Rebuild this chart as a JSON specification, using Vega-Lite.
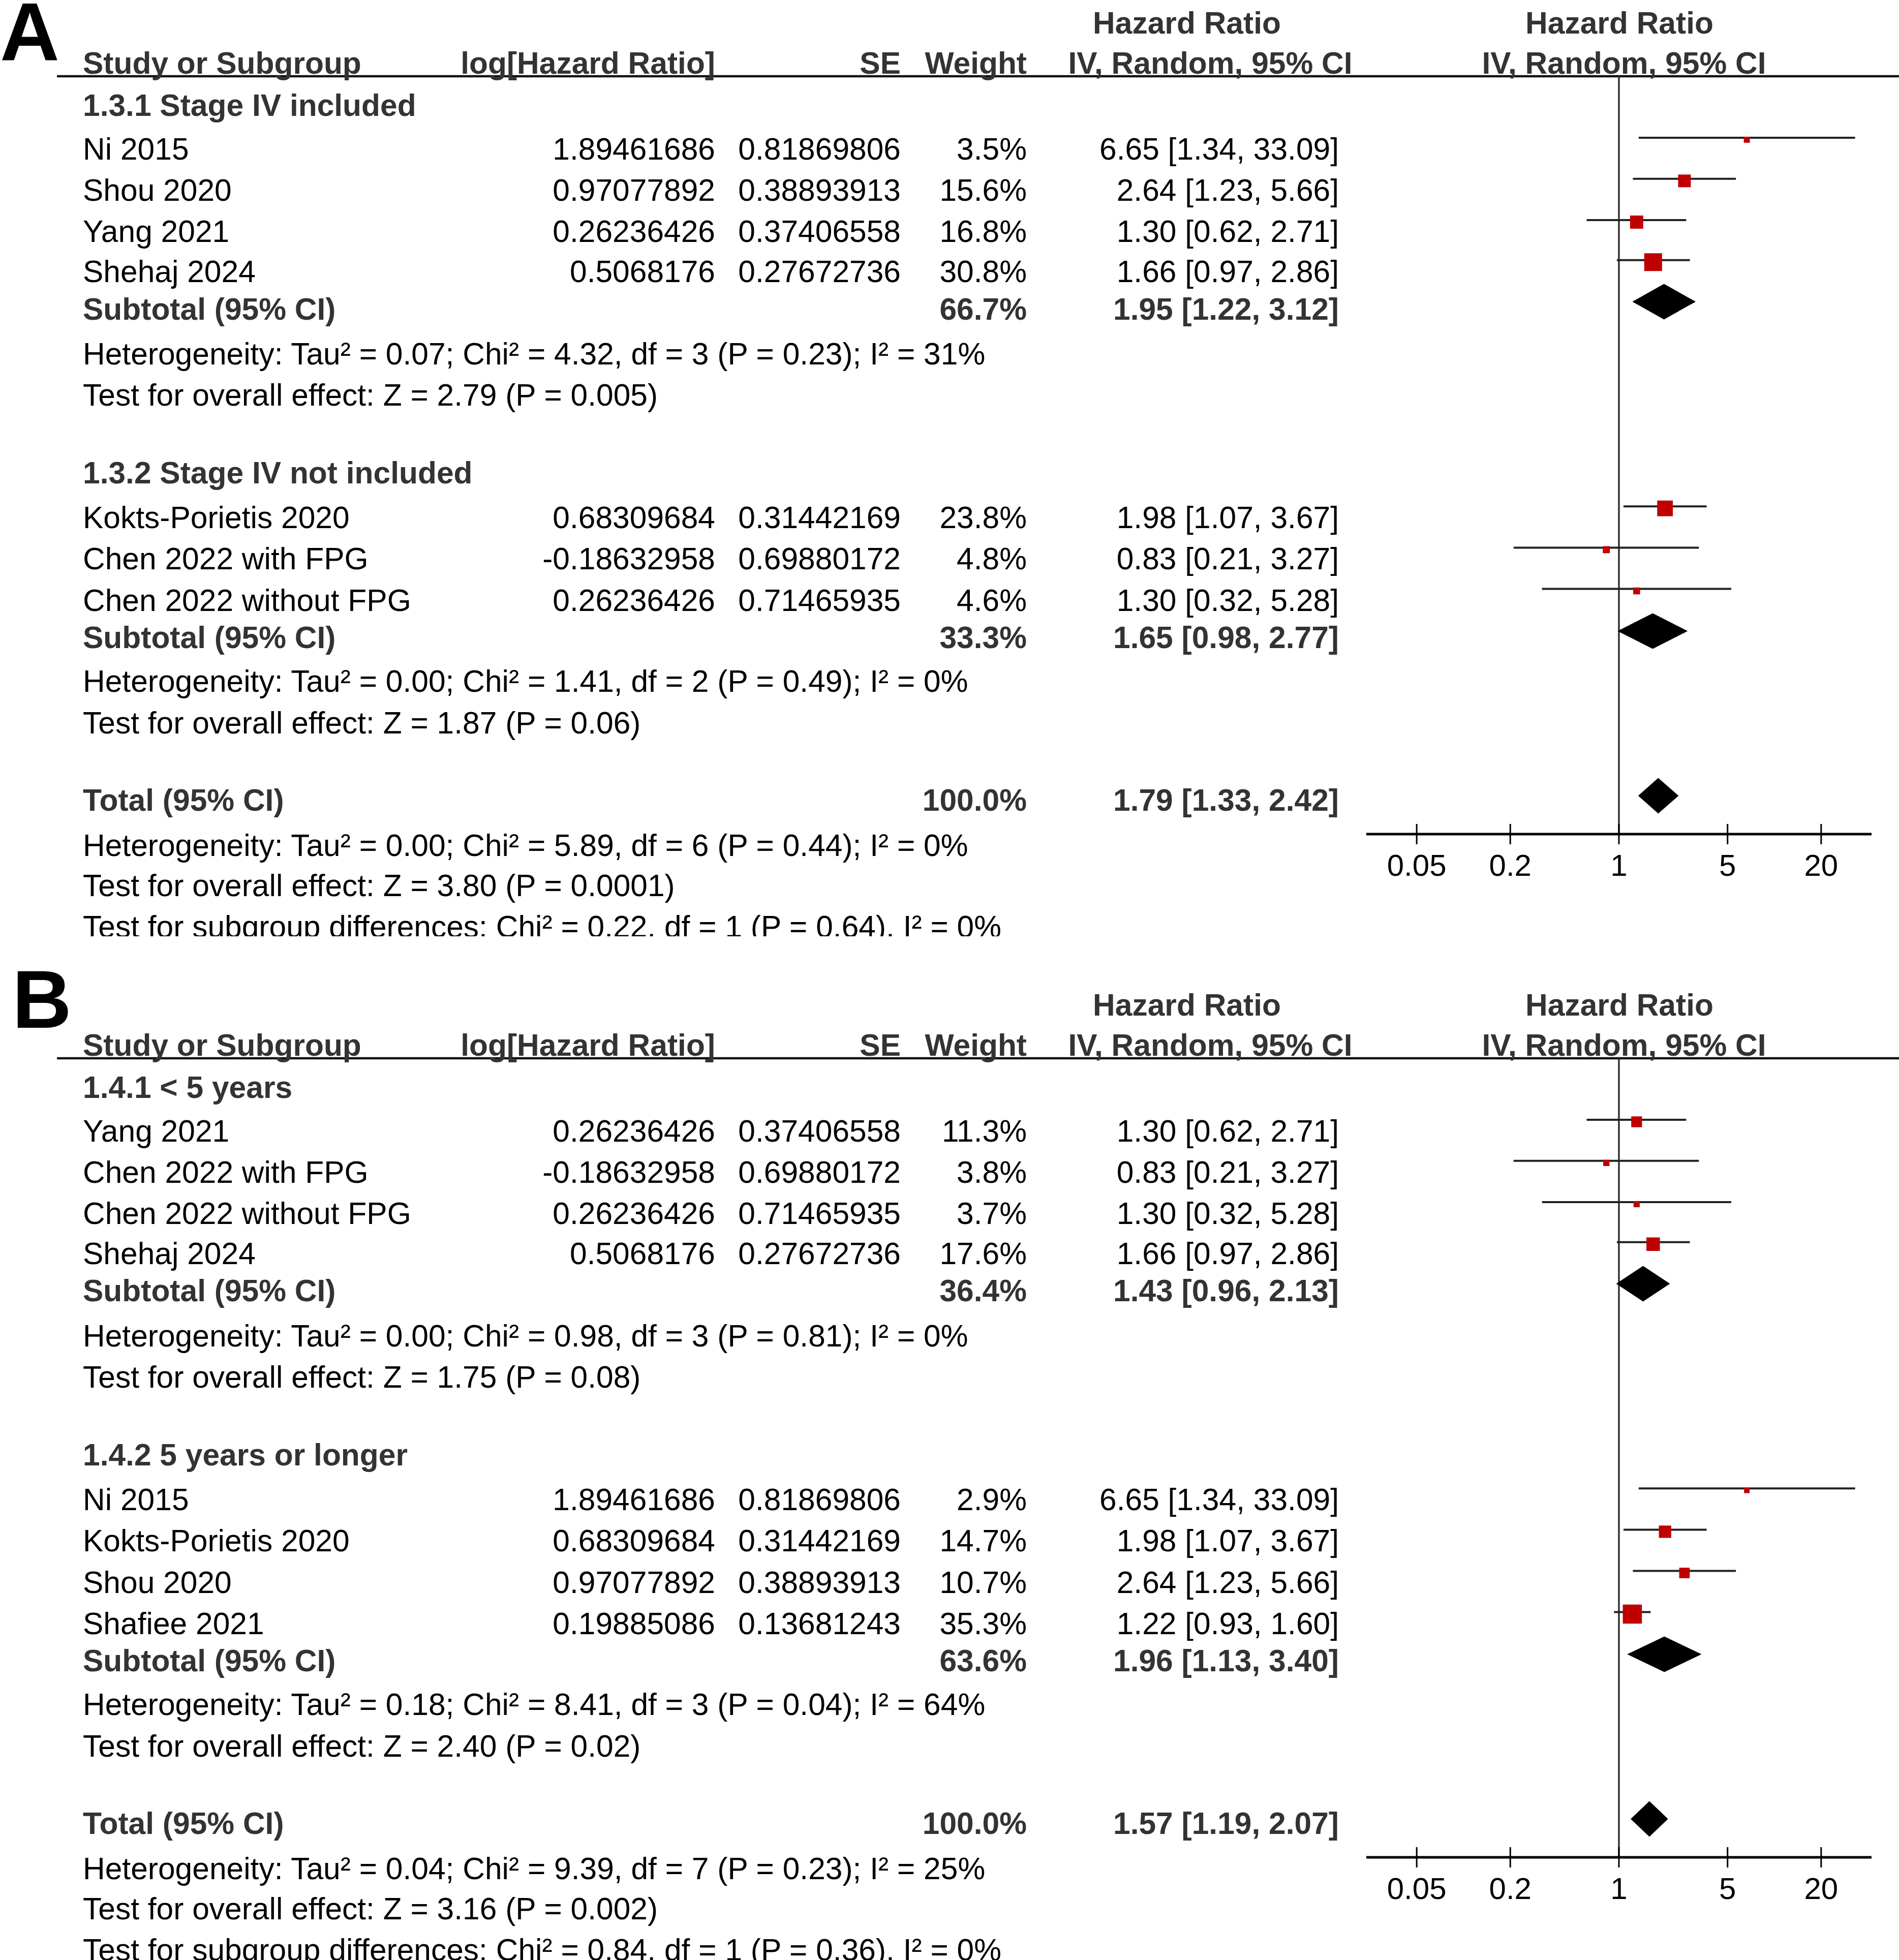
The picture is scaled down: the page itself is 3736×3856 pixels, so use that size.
{
  "$schema": "https://vega.github.io/schema/vega-lite/v6.json",
  "padding": 0,
  "background": "white",
  "bounds": "flush",
  "spacing": 90,
  "config": {"view": {"stroke": null}, "font": "Liberation Sans"},
  "datasets": {
    "cellsA": [
      {"line": 1.457, "col": -2, "kind": "label", "text": "A"},
      {"line": 0.556, "col": 5, "kind": "head", "text": "Hazard Ratio"},
      {"line": 0.556, "col": 7, "kind": "head", "text": "Hazard Ratio"},
      {"line": 1.53, "col": 0, "kind": "head", "text": "Study or Subgroup"},
      {"line": 1.53, "col": 1, "kind": "head", "text": "log[Hazard Ratio]"},
      {"line": 1.53, "col": 2, "kind": "head", "text": "SE"},
      {"line": 1.53, "col": 3, "kind": "head", "text": "Weight"},
      {"line": 1.53, "col": 6, "kind": "head", "text": "IV, Random, 95% CI"},
      {"line": 1.53, "col": 8, "kind": "head", "text": "IV, Random, 95% CI"},
      {"line": 2.556, "col": 0, "kind": "group", "text": "1.3.1 Stage IV included"},
      {"line": 3.617, "col": 0, "kind": "study", "text": "Ni 2015"},
      {"line": 3.617, "col": 1, "kind": "study", "text": "1.89461686"},
      {"line": 3.617, "col": 2, "kind": "study", "text": "0.81869806"},
      {"line": 3.617, "col": 3, "kind": "study", "text": "3.5%"},
      {"line": 3.617, "col": 4, "kind": "study", "text": "6.65 [1.34, 33.09]"},
      {"line": 4.615, "col": 0, "kind": "study", "text": "Shou 2020"},
      {"line": 4.615, "col": 1, "kind": "study", "text": "0.97077892"},
      {"line": 4.615, "col": 2, "kind": "study", "text": "0.38893913"},
      {"line": 4.615, "col": 3, "kind": "study", "text": "15.6%"},
      {"line": 4.615, "col": 4, "kind": "study", "text": "2.64 [1.23, 5.66]"},
      {"line": 5.617, "col": 0, "kind": "study", "text": "Yang 2021"},
      {"line": 5.617, "col": 1, "kind": "study", "text": "0.26236426"},
      {"line": 5.617, "col": 2, "kind": "study", "text": "0.37406558"},
      {"line": 5.617, "col": 3, "kind": "study", "text": "16.8%"},
      {"line": 5.617, "col": 4, "kind": "study", "text": "1.30 [0.62, 2.71]"},
      {"line": 6.589, "col": 0, "kind": "study", "text": "Shehaj 2024"},
      {"line": 6.589, "col": 1, "kind": "study", "text": "0.5068176"},
      {"line": 6.589, "col": 2, "kind": "study", "text": "0.27672736"},
      {"line": 6.589, "col": 3, "kind": "study", "text": "30.8%"},
      {"line": 6.589, "col": 4, "kind": "study", "text": "1.66 [0.97, 2.86]"},
      {"line": 7.5, "col": 0, "kind": "sub", "text": "Subtotal (95% CI)"},
      {"line": 7.5, "col": 3, "kind": "sub", "text": "66.7%"},
      {"line": 7.5, "col": 4, "kind": "sub", "text": "1.95 [1.22, 3.12]"},
      {"line": 8.593, "col": 0, "kind": "stat", "text": "Heterogeneity: Tau² = 0.07; Chi² = 4.32, df = 3 (P = 0.23); I² = 31%"},
      {"line": 9.595, "col": 0, "kind": "stat", "text": "Test for overall effect: Z = 2.79 (P = 0.005)"},
      {"line": 11.478, "col": 0, "kind": "group", "text": "1.3.2 Stage IV not included"},
      {"line": 12.57, "col": 0, "kind": "study", "text": "Kokts-Porietis 2020"},
      {"line": 12.57, "col": 1, "kind": "study", "text": "0.68309684"},
      {"line": 12.57, "col": 2, "kind": "study", "text": "0.31442169"},
      {"line": 12.57, "col": 3, "kind": "study", "text": "23.8%"},
      {"line": 12.57, "col": 4, "kind": "study", "text": "1.98 [1.07, 3.67]"},
      {"line": 13.573, "col": 0, "kind": "study", "text": "Chen 2022 with FPG"},
      {"line": 13.573, "col": 1, "kind": "study", "text": "-0.18632958"},
      {"line": 13.573, "col": 2, "kind": "study", "text": "0.69880172"},
      {"line": 13.573, "col": 3, "kind": "study", "text": "4.8%"},
      {"line": 13.573, "col": 4, "kind": "study", "text": "0.83 [0.21, 3.27]"},
      {"line": 14.575, "col": 0, "kind": "study", "text": "Chen 2022 without FPG"},
      {"line": 14.575, "col": 1, "kind": "study", "text": "0.26236426"},
      {"line": 14.575, "col": 2, "kind": "study", "text": "0.71465935"},
      {"line": 14.575, "col": 3, "kind": "study", "text": "4.6%"},
      {"line": 14.575, "col": 4, "kind": "study", "text": "1.30 [0.32, 5.28]"},
      {"line": 15.485, "col": 0, "kind": "sub", "text": "Subtotal (95% CI)"},
      {"line": 15.485, "col": 3, "kind": "sub", "text": "33.3%"},
      {"line": 15.485, "col": 4, "kind": "sub", "text": "1.65 [0.98, 2.77]"},
      {"line": 16.548, "col": 0, "kind": "stat", "text": "Heterogeneity: Tau² = 0.00; Chi² = 1.41, df = 2 (P = 0.49); I² = 0%"},
      {"line": 17.551, "col": 0, "kind": "stat", "text": "Test for overall effect: Z = 1.87 (P = 0.06)"},
      {"line": 19.433, "col": 0, "kind": "total", "text": "Total (95% CI)"},
      {"line": 19.433, "col": 3, "kind": "total", "text": "100.0%"},
      {"line": 19.433, "col": 4, "kind": "total", "text": "1.79 [1.33, 2.42]"},
      {"line": 20.526, "col": 0, "kind": "stat", "text": "Heterogeneity: Tau² = 0.00; Chi² = 5.89, df = 6 (P = 0.44); I² = 0%"},
      {"line": 21.512, "col": 0, "kind": "stat", "text": "Test for overall effect: Z = 3.80 (P = 0.0001)"},
      {"line": 22.506, "col": 0, "kind": "stat", "text": "Test for subgroup differences: Chi² = 0.22, df = 1 (P = 0.64), I² = 0%"}
    ],
    "cellsB": [
      {"line": 1.111, "col": -2, "kind": "label", "text": "B"},
      {"line": 0.556, "col": 5, "kind": "head", "text": "Hazard Ratio"},
      {"line": 0.556, "col": 7, "kind": "head", "text": "Hazard Ratio"},
      {"line": 1.53, "col": 0, "kind": "head", "text": "Study or Subgroup"},
      {"line": 1.53, "col": 1, "kind": "head", "text": "log[Hazard Ratio]"},
      {"line": 1.53, "col": 2, "kind": "head", "text": "SE"},
      {"line": 1.53, "col": 3, "kind": "head", "text": "Weight"},
      {"line": 1.53, "col": 6, "kind": "head", "text": "IV, Random, 95% CI"},
      {"line": 1.53, "col": 8, "kind": "head", "text": "IV, Random, 95% CI"},
      {"line": 2.556, "col": 0, "kind": "group", "text": "1.4.1 < 5 years"},
      {"line": 3.617, "col": 0, "kind": "study", "text": "Yang 2021"},
      {"line": 3.617, "col": 1, "kind": "study", "text": "0.26236426"},
      {"line": 3.617, "col": 2, "kind": "study", "text": "0.37406558"},
      {"line": 3.617, "col": 3, "kind": "study", "text": "11.3%"},
      {"line": 3.617, "col": 4, "kind": "study", "text": "1.30 [0.62, 2.71]"},
      {"line": 4.615, "col": 0, "kind": "study", "text": "Chen 2022 with FPG"},
      {"line": 4.615, "col": 1, "kind": "study", "text": "-0.18632958"},
      {"line": 4.615, "col": 2, "kind": "study", "text": "0.69880172"},
      {"line": 4.615, "col": 3, "kind": "study", "text": "3.8%"},
      {"line": 4.615, "col": 4, "kind": "study", "text": "0.83 [0.21, 3.27]"},
      {"line": 5.617, "col": 0, "kind": "study", "text": "Chen 2022 without FPG"},
      {"line": 5.617, "col": 1, "kind": "study", "text": "0.26236426"},
      {"line": 5.617, "col": 2, "kind": "study", "text": "0.71465935"},
      {"line": 5.617, "col": 3, "kind": "study", "text": "3.7%"},
      {"line": 5.617, "col": 4, "kind": "study", "text": "1.30 [0.32, 5.28]"},
      {"line": 6.589, "col": 0, "kind": "study", "text": "Shehaj 2024"},
      {"line": 6.589, "col": 1, "kind": "study", "text": "0.5068176"},
      {"line": 6.589, "col": 2, "kind": "study", "text": "0.27672736"},
      {"line": 6.589, "col": 3, "kind": "study", "text": "17.6%"},
      {"line": 6.589, "col": 4, "kind": "study", "text": "1.66 [0.97, 2.86]"},
      {"line": 7.5, "col": 0, "kind": "sub", "text": "Subtotal (95% CI)"},
      {"line": 7.5, "col": 3, "kind": "sub", "text": "36.4%"},
      {"line": 7.5, "col": 4, "kind": "sub", "text": "1.43 [0.96, 2.13]"},
      {"line": 8.593, "col": 0, "kind": "stat", "text": "Heterogeneity: Tau² = 0.00; Chi² = 0.98, df = 3 (P = 0.81); I² = 0%"},
      {"line": 9.595, "col": 0, "kind": "stat", "text": "Test for overall effect: Z = 1.75 (P = 0.08)"},
      {"line": 11.478, "col": 0, "kind": "group", "text": "1.4.2 5 years or longer"},
      {"line": 12.57, "col": 0, "kind": "study", "text": "Ni 2015"},
      {"line": 12.57, "col": 1, "kind": "study", "text": "1.89461686"},
      {"line": 12.57, "col": 2, "kind": "study", "text": "0.81869806"},
      {"line": 12.57, "col": 3, "kind": "study", "text": "2.9%"},
      {"line": 12.57, "col": 4, "kind": "study", "text": "6.65 [1.34, 33.09]"},
      {"line": 13.573, "col": 0, "kind": "study", "text": "Kokts-Porietis 2020"},
      {"line": 13.573, "col": 1, "kind": "study", "text": "0.68309684"},
      {"line": 13.573, "col": 2, "kind": "study", "text": "0.31442169"},
      {"line": 13.573, "col": 3, "kind": "study", "text": "14.7%"},
      {"line": 13.573, "col": 4, "kind": "study", "text": "1.98 [1.07, 3.67]"},
      {"line": 14.575, "col": 0, "kind": "study", "text": "Shou 2020"},
      {"line": 14.575, "col": 1, "kind": "study", "text": "0.97077892"},
      {"line": 14.575, "col": 2, "kind": "study", "text": "0.38893913"},
      {"line": 14.575, "col": 3, "kind": "study", "text": "10.7%"},
      {"line": 14.575, "col": 4, "kind": "study", "text": "2.64 [1.23, 5.66]"},
      {"line": 15.575, "col": 0, "kind": "study", "text": "Shafiee 2021"},
      {"line": 15.575, "col": 1, "kind": "study", "text": "0.19885086"},
      {"line": 15.575, "col": 2, "kind": "study", "text": "0.13681243"},
      {"line": 15.575, "col": 3, "kind": "study", "text": "35.3%"},
      {"line": 15.575, "col": 4, "kind": "study", "text": "1.22 [0.93, 1.60]"},
      {"line": 16.485, "col": 0, "kind": "sub", "text": "Subtotal (95% CI)"},
      {"line": 16.485, "col": 3, "kind": "sub", "text": "63.6%"},
      {"line": 16.485, "col": 4, "kind": "sub", "text": "1.96 [1.13, 3.40]"},
      {"line": 17.548, "col": 0, "kind": "stat", "text": "Heterogeneity: Tau² = 0.18; Chi² = 8.41, df = 3 (P = 0.04); I² = 64%"},
      {"line": 18.551, "col": 0, "kind": "stat", "text": "Test for overall effect: Z = 2.40 (P = 0.02)"},
      {"line": 20.433, "col": 0, "kind": "total", "text": "Total (95% CI)"},
      {"line": 20.433, "col": 3, "kind": "total", "text": "100.0%"},
      {"line": 20.433, "col": 4, "kind": "total", "text": "1.57 [1.19, 2.07]"},
      {"line": 21.526, "col": 0, "kind": "stat", "text": "Heterogeneity: Tau² = 0.04; Chi² = 9.39, df = 7 (P = 0.23); I² = 25%"},
      {"line": 22.512, "col": 0, "kind": "stat", "text": "Test for overall effect: Z = 3.16 (P = 0.002)"},
      {"line": 23.506, "col": 0, "kind": "stat", "text": "Test for subgroup differences: Chi² = 0.84, df = 1 (P = 0.36), I² = 0%"}
    ],
    "studiesA": [
      {"study": "Ni 2015", "line": 3.617, "hr": 6.65, "lo": 1.34, "hi": 33.09, "weight": 3.5},
      {"study": "Shou 2020", "line": 4.615, "hr": 2.64, "lo": 1.23, "hi": 5.66, "weight": 15.6},
      {"study": "Yang 2021", "line": 5.617, "hr": 1.30, "lo": 0.62, "hi": 2.71, "weight": 16.8},
      {"study": "Shehaj 2024", "line": 6.589, "hr": 1.66, "lo": 0.97, "hi": 2.86, "weight": 30.8},
      {"study": "Kokts-Porietis 2020", "line": 12.57, "hr": 1.98, "lo": 1.07, "hi": 3.67, "weight": 23.8},
      {"study": "Chen 2022 with FPG", "line": 13.573, "hr": 0.83, "lo": 0.21, "hi": 3.27, "weight": 4.8},
      {"study": "Chen 2022 without FPG", "line": 14.575, "hr": 1.30, "lo": 0.32, "hi": 5.28, "weight": 4.6}
    ],
    "studiesB": [
      {"study": "Yang 2021", "line": 3.617, "hr": 1.30, "lo": 0.62, "hi": 2.71, "weight": 11.3},
      {"study": "Chen 2022 with FPG", "line": 4.615, "hr": 0.83, "lo": 0.21, "hi": 3.27, "weight": 3.8},
      {"study": "Chen 2022 without FPG", "line": 5.617, "hr": 1.30, "lo": 0.32, "hi": 5.28, "weight": 3.7},
      {"study": "Shehaj 2024", "line": 6.589, "hr": 1.66, "lo": 0.97, "hi": 2.86, "weight": 17.6},
      {"study": "Ni 2015", "line": 12.57, "hr": 6.65, "lo": 1.34, "hi": 33.09, "weight": 2.9},
      {"study": "Kokts-Porietis 2020", "line": 13.573, "hr": 1.98, "lo": 1.07, "hi": 3.67, "weight": 14.7},
      {"study": "Shou 2020", "line": 14.575, "hr": 2.64, "lo": 1.23, "hi": 5.66, "weight": 10.7},
      {"study": "Shafiee 2021", "line": 15.575, "hr": 1.22, "lo": 0.93, "hi": 1.60, "weight": 35.3}
    ],
    "diamondsA": [
      {"id": "1.3.1", "slot": 7, "seq": 1, "vertex": "mid", "hr": 1.22},
      {"id": "1.3.1", "slot": 7, "seq": 2, "vertex": "top", "hr": 1.95},
      {"id": "1.3.1", "slot": 7, "seq": 3, "vertex": "mid", "hr": 3.12},
      {"id": "1.3.1", "slot": 7, "seq": 4, "vertex": "bottom", "hr": 1.95},
      {"id": "1.3.2", "slot": 15, "seq": 1, "vertex": "mid", "hr": 0.98},
      {"id": "1.3.2", "slot": 15, "seq": 2, "vertex": "top", "hr": 1.65},
      {"id": "1.3.2", "slot": 15, "seq": 3, "vertex": "mid", "hr": 2.77},
      {"id": "1.3.2", "slot": 15, "seq": 4, "vertex": "bottom", "hr": 1.65},
      {"id": "total", "slot": 19, "seq": 1, "vertex": "mid", "hr": 1.33},
      {"id": "total", "slot": 19, "seq": 2, "vertex": "top", "hr": 1.79},
      {"id": "total", "slot": 19, "seq": 3, "vertex": "mid", "hr": 2.42},
      {"id": "total", "slot": 19, "seq": 4, "vertex": "bottom", "hr": 1.79}
    ],
    "diamondsB": [
      {"id": "1.4.1", "slot": 7, "seq": 1, "vertex": "mid", "hr": 0.96},
      {"id": "1.4.1", "slot": 7, "seq": 2, "vertex": "top", "hr": 1.43},
      {"id": "1.4.1", "slot": 7, "seq": 3, "vertex": "mid", "hr": 2.13},
      {"id": "1.4.1", "slot": 7, "seq": 4, "vertex": "bottom", "hr": 1.43},
      {"id": "1.4.2", "slot": 16, "seq": 1, "vertex": "mid", "hr": 1.13},
      {"id": "1.4.2", "slot": 16, "seq": 2, "vertex": "top", "hr": 1.96},
      {"id": "1.4.2", "slot": 16, "seq": 3, "vertex": "mid", "hr": 3.40},
      {"id": "1.4.2", "slot": 16, "seq": 4, "vertex": "bottom", "hr": 1.96},
      {"id": "total", "slot": 20, "seq": 1, "vertex": "mid", "hr": 1.19},
      {"id": "total", "slot": 20, "seq": 2, "vertex": "top", "hr": 1.57},
      {"id": "total", "slot": 20, "seq": 3, "vertex": "mid", "hr": 2.07},
      {"id": "total", "slot": 20, "seq": 4, "vertex": "bottom", "hr": 1.57}
    ],
    "ticks": [{"tick": 0.05}, {"tick": 0.2}, {"tick": 1}, {"tick": 5}, {"tick": 20}]
  },
  "vconcat": [
    {
      "width": 3736,
      "height": 1842,
      "layer": [
        {
          "layer": [
            {
              "data": {"values": [{}]},
              "mark": {"type": "rule", "color": "#111111", "strokeWidth": 4.5},
              "encoding": {
                "x": {"datum": -1, "type": "quantitative", "scale": {"type": "linear", "domain": [-2, -1, 0, 1, 2, 3, 4, 5, 6, 7, 8, 9], "range": [0, 112, 163, 1407, 1772, 2020, 2634, 2335, 2381, 3186, 3195, 3736], "nice": false, "zero": false}, "axis": null},
                "x2": {"datum": 9},
                "y": {"datum": 1.852, "type": "quantitative", "scale": {"domain": [0, 22.7407], "reverse": true, "nice": false, "zero": false}, "axis": null}
              }
            },
            {
              "data": {"name": "cellsA"},
              "transform": [{"filter": "datum.kind == 'label'"}],
              "mark": {"type": "text", "font": "Liberation Sans", "fontWeight": "bold", "fontSize": 162, "align": "left", "baseline": "alphabetic", "color": "#000000", "clip": true},
              "encoding": {
                "x": {"field": "col", "type": "quantitative", "scale": {"type": "linear", "domain": [-2, -1, 0, 1, 2, 3, 4, 5, 6, 7, 8, 9], "range": [0, 112, 163, 1407, 1772, 2020, 2634, 2335, 2381, 3186, 3195, 3736], "nice": false, "zero": false}, "axis": null},
                "y": {"field": "line", "type": "quantitative", "scale": {"domain": [0, 22.7407], "reverse": true, "nice": false, "zero": false}, "axis": null},
                "text": {"field": "text"}
              }
            },
            {
              "data": {"name": "cellsA"},
              "transform": [{"filter": "datum.col == 0 && (datum.kind == 'study' || datum.kind == 'stat')"}],
              "mark": {"type": "text", "font": "Liberation Sans", "fontSize": 60.5, "align": "left", "baseline": "middle", "dy": 3, "color": "#000000", "clip": true},
              "encoding": {
                "x": {"field": "col", "type": "quantitative", "scale": {"type": "linear", "domain": [-2, -1, 0, 1, 2, 3, 4, 5, 6, 7, 8, 9], "range": [0, 112, 163, 1407, 1772, 2020, 2634, 2335, 2381, 3186, 3195, 3736], "nice": false, "zero": false}, "axis": null},
                "y": {"field": "line", "type": "quantitative", "scale": {"domain": [0, 22.7407], "reverse": true, "nice": false, "zero": false}, "axis": null},
                "text": {"field": "text"}
              }
            },
            {
              "data": {"name": "cellsA"},
              "transform": [{"filter": "datum.col == 0 && datum.kind != 'study' && datum.kind != 'stat' && datum.kind != 'label'"}],
              "mark": {"type": "text", "font": "Liberation Sans", "fontWeight": "bold", "fontSize": 60.5, "align": "left", "baseline": "middle", "dy": 3, "color": "#333333", "clip": true},
              "encoding": {
                "x": {"field": "col", "type": "quantitative", "scale": {"type": "linear", "domain": [-2, -1, 0, 1, 2, 3, 4, 5, 6, 7, 8, 9], "range": [0, 112, 163, 1407, 1772, 2020, 2634, 2335, 2381, 3186, 3195, 3736], "nice": false, "zero": false}, "axis": null},
                "y": {"field": "line", "type": "quantitative", "scale": {"domain": [0, 22.7407], "reverse": true, "nice": false, "zero": false}, "axis": null},
                "text": {"field": "text"}
              }
            },
            {
              "data": {"name": "cellsA"},
              "transform": [{"filter": "datum.col >= 1 && datum.col <= 4 && datum.kind == 'study'"}],
              "mark": {"type": "text", "font": "Liberation Sans", "fontSize": 60.5, "align": "right", "baseline": "middle", "dy": 3, "color": "#000000", "clip": true},
              "encoding": {
                "x": {"field": "col", "type": "quantitative", "scale": {"type": "linear", "domain": [-2, -1, 0, 1, 2, 3, 4, 5, 6, 7, 8, 9], "range": [0, 112, 163, 1407, 1772, 2020, 2634, 2335, 2381, 3186, 3195, 3736], "nice": false, "zero": false}, "axis": null},
                "y": {"field": "line", "type": "quantitative", "scale": {"domain": [0, 22.7407], "reverse": true, "nice": false, "zero": false}, "axis": null},
                "text": {"field": "text"}
              }
            },
            {
              "data": {"name": "cellsA"},
              "transform": [{"filter": "datum.col >= 1 && datum.col <= 4 && datum.kind != 'study'"}],
              "mark": {"type": "text", "font": "Liberation Sans", "fontWeight": "bold", "fontSize": 60.5, "align": "right", "baseline": "middle", "dy": 3, "color": "#333333", "clip": true},
              "encoding": {
                "x": {"field": "col", "type": "quantitative", "scale": {"type": "linear", "domain": [-2, -1, 0, 1, 2, 3, 4, 5, 6, 7, 8, 9], "range": [0, 112, 163, 1407, 1772, 2020, 2634, 2335, 2381, 3186, 3195, 3736], "nice": false, "zero": false}, "axis": null},
                "y": {"field": "line", "type": "quantitative", "scale": {"domain": [0, 22.7407], "reverse": true, "nice": false, "zero": false}, "axis": null},
                "text": {"field": "text"}
              }
            },
            {
              "data": {"name": "cellsA"},
              "transform": [{"filter": "datum.col >= 5"}],
              "mark": {"type": "text", "font": "Liberation Sans", "fontWeight": "bold", "fontSize": 60.5, "align": "center", "baseline": "middle", "dy": 3, "color": "#333333", "clip": true},
              "encoding": {
                "x": {"field": "col", "type": "quantitative", "scale": {"type": "linear", "domain": [-2, -1, 0, 1, 2, 3, 4, 5, 6, 7, 8, 9], "range": [0, 112, 163, 1407, 1772, 2020, 2634, 2335, 2381, 3186, 3195, 3736], "nice": false, "zero": false}, "axis": null},
                "y": {"field": "line", "type": "quantitative", "scale": {"domain": [0, 22.7407], "reverse": true, "nice": false, "zero": false}, "axis": null},
                "text": {"field": "text"}
              }
            }
          ]
        },
        {
          "layer": [
            {
              "data": {"values": [{}]},
              "mark": {"type": "rule", "color": "#333333", "strokeWidth": 3.5},
              "encoding": {
                "x": {"datum": 1, "type": "quantitative", "scale": {"type": "log", "domain": [0.0237, 42.2], "range": [2688, 3682], "nice": false}, "axis": null},
                "y": {"datum": 1.852, "type": "quantitative", "scale": {"domain": [0, 22.7407], "reverse": true, "nice": false, "zero": false}, "axis": null},
                "y2": {"datum": 20.259}
              }
            },
            {
              "data": {"values": [{}]},
              "mark": {"type": "rule", "color": "#000000", "strokeWidth": 5},
              "encoding": {
                "x": {"datum": 0.0237, "type": "quantitative", "scale": {"type": "log", "domain": [0.0237, 42.2], "range": [2688, 3682], "nice": false}, "axis": null},
                "x2": {"datum": 42.2},
                "y": {"datum": 20.259, "type": "quantitative", "scale": {"domain": [0, 22.7407], "reverse": true, "nice": false, "zero": false}, "axis": null}
              }
            },
            {
              "data": {"name": "ticks"},
              "mark": {"type": "rule", "color": "#000000", "strokeWidth": 3},
              "encoding": {
                "x": {"field": "tick", "type": "quantitative", "scale": {"type": "log", "domain": [0.0237, 42.2], "range": [2688, 3682], "nice": false}, "axis": null},
                "y": {"datum": 20.012, "type": "quantitative", "scale": {"domain": [0, 22.7407], "reverse": true, "nice": false, "zero": false}, "axis": null},
                "y2": {"datum": 20.506}
              }
            },
            {
              "data": {"name": "ticks"},
              "mark": {"type": "text", "font": "Liberation Sans", "fontSize": 60, "align": "center", "baseline": "middle", "dy": 3, "color": "#000000"},
              "encoding": {
                "x": {"field": "tick", "type": "quantitative", "scale": {"type": "log", "domain": [0.0237, 42.2], "range": [2688, 3682], "nice": false}, "axis": null},
                "y": {"datum": 21.012, "type": "quantitative", "scale": {"domain": [0, 22.7407], "reverse": true, "nice": false, "zero": false}, "axis": null},
                "text": {"field": "tick", "type": "quantitative", "format": "~g"}
              }
            },
            {
              "data": {"name": "studiesA"},
              "mark": {"type": "rule", "color": "#222222", "strokeWidth": 4, "yOffset": -22},
              "encoding": {
                "x": {"field": "lo", "type": "quantitative", "scale": {"type": "log", "domain": [0.0237, 42.2], "range": [2688, 3682], "nice": false}, "axis": null},
                "x2": {"field": "hi"},
                "y": {"field": "line", "type": "quantitative", "scale": {"domain": [0, 22.7407], "reverse": true, "nice": false, "zero": false}, "axis": null}
              }
            },
            {
              "data": {"name": "studiesA"},
              "mark": {"type": "point", "shape": "square", "filled": true, "color": "#c00000", "opacity": 1, "yOffset": -18},
              "encoding": {
                "x": {"field": "hr", "type": "quantitative", "scale": {"type": "log", "domain": [0.0237, 42.2], "range": [2688, 3682], "nice": false}, "axis": null},
                "y": {"field": "line", "type": "quantitative", "scale": {"domain": [0, 22.7407], "reverse": true, "nice": false, "zero": false}, "axis": null},
                "size": {"field": "weight", "type": "quantitative", "scale": {"type": "linear", "domain": [0, 40], "range": [0, 1600]}, "legend": null}
              }
            }
          ]
        },
        {
          "data": {"name": "diamondsA"},
          "mark": {"type": "line", "filled": true, "color": "#000000", "strokeWidth": 0},
          "encoding": {
            "x": {"field": "hr", "type": "quantitative", "scale": {"type": "log", "domain": [0.0237, 42.2], "range": [2688, 3682], "nice": false}, "axis": null},
            "y": {"field": "slot", "type": "ordinal", "scale": {"type": "point", "domain": [0, 1, 2, 3, 4, 5, 6, 7, 8, 9, 10, 11, 12, 13, 14, 15, 16, 17, 18, 19, 20, 21, 22, 23], "range": [40.5, 1903.5], "padding": 0}, "axis": null},
            "yOffset": {"field": "vertex", "type": "nominal", "scale": {"type": "point", "domain": ["top", "mid", "bottom"], "range": [-49, 21], "padding": 0}},
            "order": {"field": "seq", "type": "quantitative"},
            "detail": {"field": "id"}
          }
        }
      ],
      "resolve": {"scale": {"x": "independent", "y": "independent"}, "axis": {"x": "independent", "y": "independent"}}
    },
    {
      "width": 3736,
      "height": 1924,
      "layer": [
        {
          "layer": [
            {
              "data": {"values": [{}]},
              "mark": {"type": "rule", "color": "#111111", "strokeWidth": 4.5},
              "encoding": {
                "x": {"datum": -1, "type": "quantitative", "scale": {"type": "linear", "domain": [-2, -1, 0, 1, 2, 3, 4, 5, 6, 7, 8, 9], "range": [24, 112, 163, 1407, 1772, 2020, 2634, 2335, 2381, 3186, 3195, 3736], "nice": false, "zero": false}, "axis": null},
                "x2": {"datum": 9},
                "y": {"datum": 1.852, "type": "quantitative", "scale": {"domain": [0, 23.7531], "reverse": true, "nice": false, "zero": false}, "axis": null}
              }
            },
            {
              "data": {"name": "cellsB"},
              "transform": [{"filter": "datum.kind == 'label'"}],
              "mark": {"type": "text", "font": "Liberation Sans", "fontWeight": "bold", "fontSize": 162, "align": "left", "baseline": "alphabetic", "color": "#000000"},
              "encoding": {
                "x": {"field": "col", "type": "quantitative", "scale": {"type": "linear", "domain": [-2, -1, 0, 1, 2, 3, 4, 5, 6, 7, 8, 9], "range": [24, 112, 163, 1407, 1772, 2020, 2634, 2335, 2381, 3186, 3195, 3736], "nice": false, "zero": false}, "axis": null},
                "y": {"field": "line", "type": "quantitative", "scale": {"domain": [0, 23.7531], "reverse": true, "nice": false, "zero": false}, "axis": null},
                "text": {"field": "text"}
              }
            },
            {
              "data": {"name": "cellsB"},
              "transform": [{"filter": "datum.col == 0 && (datum.kind == 'study' || datum.kind == 'stat')"}],
              "mark": {"type": "text", "font": "Liberation Sans", "fontSize": 60.5, "align": "left", "baseline": "middle", "dy": 3, "color": "#000000", "clip": true},
              "encoding": {
                "x": {"field": "col", "type": "quantitative", "scale": {"type": "linear", "domain": [-2, -1, 0, 1, 2, 3, 4, 5, 6, 7, 8, 9], "range": [24, 112, 163, 1407, 1772, 2020, 2634, 2335, 2381, 3186, 3195, 3736], "nice": false, "zero": false}, "axis": null},
                "y": {"field": "line", "type": "quantitative", "scale": {"domain": [0, 23.7531], "reverse": true, "nice": false, "zero": false}, "axis": null},
                "text": {"field": "text"}
              }
            },
            {
              "data": {"name": "cellsB"},
              "transform": [{"filter": "datum.col == 0 && datum.kind != 'study' && datum.kind != 'stat' && datum.kind != 'label'"}],
              "mark": {"type": "text", "font": "Liberation Sans", "fontWeight": "bold", "fontSize": 60.5, "align": "left", "baseline": "middle", "dy": 3, "color": "#333333", "clip": true},
              "encoding": {
                "x": {"field": "col", "type": "quantitative", "scale": {"type": "linear", "domain": [-2, -1, 0, 1, 2, 3, 4, 5, 6, 7, 8, 9], "range": [24, 112, 163, 1407, 1772, 2020, 2634, 2335, 2381, 3186, 3195, 3736], "nice": false, "zero": false}, "axis": null},
                "y": {"field": "line", "type": "quantitative", "scale": {"domain": [0, 23.7531], "reverse": true, "nice": false, "zero": false}, "axis": null},
                "text": {"field": "text"}
              }
            },
            {
              "data": {"name": "cellsB"},
              "transform": [{"filter": "datum.col >= 1 && datum.col <= 4 && datum.kind == 'study'"}],
              "mark": {"type": "text", "font": "Liberation Sans", "fontSize": 60.5, "align": "right", "baseline": "middle", "dy": 3, "color": "#000000", "clip": true},
              "encoding": {
                "x": {"field": "col", "type": "quantitative", "scale": {"type": "linear", "domain": [-2, -1, 0, 1, 2, 3, 4, 5, 6, 7, 8, 9], "range": [24, 112, 163, 1407, 1772, 2020, 2634, 2335, 2381, 3186, 3195, 3736], "nice": false, "zero": false}, "axis": null},
                "y": {"field": "line", "type": "quantitative", "scale": {"domain": [0, 23.7531], "reverse": true, "nice": false, "zero": false}, "axis": null},
                "text": {"field": "text"}
              }
            },
            {
              "data": {"name": "cellsB"},
              "transform": [{"filter": "datum.col >= 1 && datum.col <= 4 && datum.kind != 'study'"}],
              "mark": {"type": "text", "font": "Liberation Sans", "fontWeight": "bold", "fontSize": 60.5, "align": "right", "baseline": "middle", "dy": 3, "color": "#333333", "clip": true},
              "encoding": {
                "x": {"field": "col", "type": "quantitative", "scale": {"type": "linear", "domain": [-2, -1, 0, 1, 2, 3, 4, 5, 6, 7, 8, 9], "range": [24, 112, 163, 1407, 1772, 2020, 2634, 2335, 2381, 3186, 3195, 3736], "nice": false, "zero": false}, "axis": null},
                "y": {"field": "line", "type": "quantitative", "scale": {"domain": [0, 23.7531], "reverse": true, "nice": false, "zero": false}, "axis": null},
                "text": {"field": "text"}
              }
            },
            {
              "data": {"name": "cellsB"},
              "transform": [{"filter": "datum.col >= 5"}],
              "mark": {"type": "text", "font": "Liberation Sans", "fontWeight": "bold", "fontSize": 60.5, "align": "center", "baseline": "middle", "dy": 3, "color": "#333333", "clip": true},
              "encoding": {
                "x": {"field": "col", "type": "quantitative", "scale": {"type": "linear", "domain": [-2, -1, 0, 1, 2, 3, 4, 5, 6, 7, 8, 9], "range": [24, 112, 163, 1407, 1772, 2020, 2634, 2335, 2381, 3186, 3195, 3736], "nice": false, "zero": false}, "axis": null},
                "y": {"field": "line", "type": "quantitative", "scale": {"domain": [0, 23.7531], "reverse": true, "nice": false, "zero": false}, "axis": null},
                "text": {"field": "text"}
              }
            }
          ]
        },
        {
          "layer": [
            {
              "data": {"values": [{}]},
              "mark": {"type": "rule", "color": "#333333", "strokeWidth": 3.5},
              "encoding": {
                "x": {"datum": 1, "type": "quantitative", "scale": {"type": "log", "domain": [0.0237, 42.2], "range": [2688, 3682], "nice": false}, "axis": null},
                "y": {"datum": 1.852, "type": "quantitative", "scale": {"domain": [0, 23.7531], "reverse": true, "nice": false, "zero": false}, "axis": null},
                "y2": {"datum": 21.259}
              }
            },
            {
              "data": {"values": [{}]},
              "mark": {"type": "rule", "color": "#000000", "strokeWidth": 5},
              "encoding": {
                "x": {"datum": 0.0237, "type": "quantitative", "scale": {"type": "log", "domain": [0.0237, 42.2], "range": [2688, 3682], "nice": false}, "axis": null},
                "x2": {"datum": 42.2},
                "y": {"datum": 21.259, "type": "quantitative", "scale": {"domain": [0, 23.7531], "reverse": true, "nice": false, "zero": false}, "axis": null}
              }
            },
            {
              "data": {"name": "ticks"},
              "mark": {"type": "rule", "color": "#000000", "strokeWidth": 3},
              "encoding": {
                "x": {"field": "tick", "type": "quantitative", "scale": {"type": "log", "domain": [0.0237, 42.2], "range": [2688, 3682], "nice": false}, "axis": null},
                "y": {"datum": 21.012, "type": "quantitative", "scale": {"domain": [0, 23.7531], "reverse": true, "nice": false, "zero": false}, "axis": null},
                "y2": {"datum": 21.506}
              }
            },
            {
              "data": {"name": "ticks"},
              "mark": {"type": "text", "font": "Liberation Sans", "fontSize": 60, "align": "center", "baseline": "middle", "dy": 3, "color": "#000000"},
              "encoding": {
                "x": {"field": "tick", "type": "quantitative", "scale": {"type": "log", "domain": [0.0237, 42.2], "range": [2688, 3682], "nice": false}, "axis": null},
                "y": {"datum": 22.012, "type": "quantitative", "scale": {"domain": [0, 23.7531], "reverse": true, "nice": false, "zero": false}, "axis": null},
                "text": {"field": "tick", "type": "quantitative", "format": "~g"}
              }
            },
            {
              "data": {"name": "studiesB"},
              "mark": {"type": "rule", "color": "#222222", "strokeWidth": 4, "yOffset": -22},
              "encoding": {
                "x": {"field": "lo", "type": "quantitative", "scale": {"type": "log", "domain": [0.0237, 42.2], "range": [2688, 3682], "nice": false}, "axis": null},
                "x2": {"field": "hi"},
                "y": {"field": "line", "type": "quantitative", "scale": {"domain": [0, 23.7531], "reverse": true, "nice": false, "zero": false}, "axis": null}
              }
            },
            {
              "data": {"name": "studiesB"},
              "mark": {"type": "point", "shape": "square", "filled": true, "color": "#c00000", "opacity": 1, "yOffset": -18},
              "encoding": {
                "x": {"field": "hr", "type": "quantitative", "scale": {"type": "log", "domain": [0.0237, 42.2], "range": [2688, 3682], "nice": false}, "axis": null},
                "y": {"field": "line", "type": "quantitative", "scale": {"domain": [0, 23.7531], "reverse": true, "nice": false, "zero": false}, "axis": null},
                "size": {"field": "weight", "type": "quantitative", "scale": {"type": "linear", "domain": [0, 40], "range": [0, 1600]}, "legend": null}
              }
            }
          ]
        },
        {
          "data": {"name": "diamondsB"},
          "mark": {"type": "line", "filled": true, "color": "#000000", "strokeWidth": 0},
          "encoding": {
            "x": {"field": "hr", "type": "quantitative", "scale": {"type": "log", "domain": [0.0237, 42.2], "range": [2688, 3682], "nice": false}, "axis": null},
            "y": {"field": "slot", "type": "ordinal", "scale": {"type": "point", "domain": [0, 1, 2, 3, 4, 5, 6, 7, 8, 9, 10, 11, 12, 13, 14, 15, 16, 17, 18, 19, 20, 21, 22, 23], "range": [40.5, 1903.5], "padding": 0}, "axis": null},
            "yOffset": {"field": "vertex", "type": "nominal", "scale": {"type": "point", "domain": ["top", "mid", "bottom"], "range": [-49, 21], "padding": 0}},
            "order": {"field": "seq", "type": "quantitative"},
            "detail": {"field": "id"}
          }
        }
      ],
      "resolve": {"scale": {"x": "independent", "y": "independent"}, "axis": {"x": "independent", "y": "independent"}}
    }
  ],
  "resolve": {"scale": {"x": "independent", "y": "independent"}}
}
